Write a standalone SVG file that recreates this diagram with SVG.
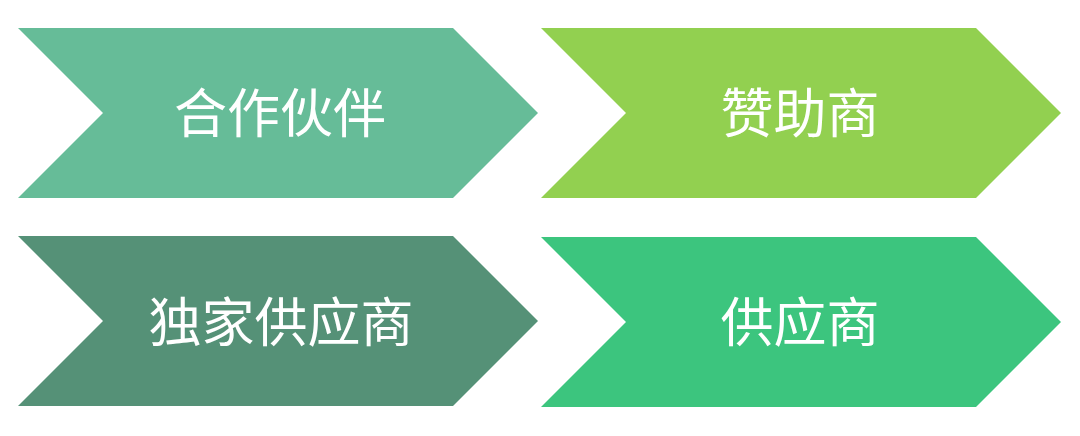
<svg xmlns="http://www.w3.org/2000/svg" width="1080" height="436" viewBox="0 0 1080 436">
<style>
.lbl{font-family:"Noto Sans CJK SC","Noto Sans",sans-serif;font-size:53px;fill:#ffffff;text-anchor:middle;dominant-baseline:central}
</style>
<rect width="1080" height="436" fill="#ffffff"/>
<g id="node-partner">
<polygon points="18,28 453,28 538,113 453,198 18,198 103,113" fill="#66BC98"/>
<text class="lbl" x="280" y="110">合作伙伴</text>
</g>
<g id="node-sponsor">
<polygon points="541,28 976,28 1061,113 976,198 541,198 626,113" fill="#92D050"/>
<text class="lbl" x="800" y="110">赞助商</text>
</g>
<g id="node-exclusive">
<polygon points="18,236 453,236 538,321 453,406 18,406 103,321" fill="#559177"/>
<text class="lbl" x="281" y="319">独家供应商</text>
</g>
<g id="node-supplier">
<polygon points="541,237 976,237 1061,322 976,407 541,407 626,322" fill="#3CC57E"/>
<text class="lbl" x="800" y="319">供应商</text>
</g>
<g id="connectors"></g>
</svg>
